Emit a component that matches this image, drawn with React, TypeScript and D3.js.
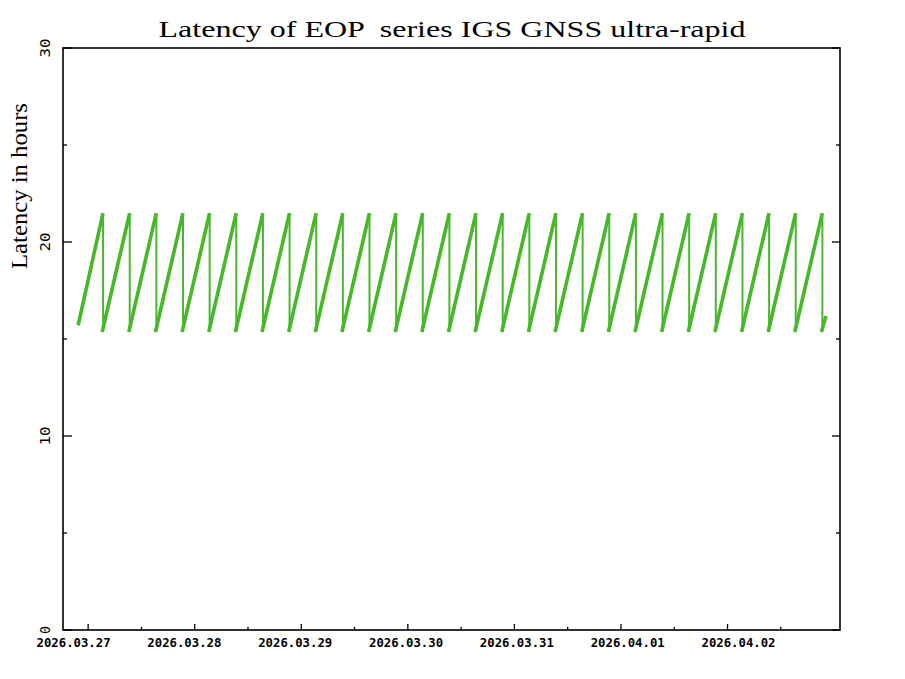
import * as React from 'react'
import * as d3 from 'd3'

// product release times (UTC) where latency drops back down
const releaseTimes = [
  '2026-03-27T03:15', '2026-03-27T09:15', '2026-03-27T15:15', '2026-03-27T21:15',
  '2026-03-28T03:15', '2026-03-28T09:15', '2026-03-28T15:15', '2026-03-28T21:15',
  '2026-03-29T03:15', '2026-03-29T09:15', '2026-03-29T15:15', '2026-03-29T21:15',
  '2026-03-30T03:15', '2026-03-30T09:15', '2026-03-30T15:15', '2026-03-30T21:15',
  '2026-03-31T03:15', '2026-03-31T09:15', '2026-03-31T15:15', '2026-03-31T21:15',
  '2026-04-01T03:15', '2026-04-01T09:15', '2026-04-01T15:15', '2026-04-01T21:15',
  '2026-04-02T03:15', '2026-04-02T09:15', '2026-04-02T15:15', '2026-04-02T21:15',
]
// latency just before each release (hours)
const peakLatency = [
  21.4, 21.4, 21.4, 21.4, 21.4, 21.4, 21.4, 21.4, 21.4, 21.4, 21.4, 21.4, 21.4, 21.4,
  21.4, 21.4, 21.4, 21.4, 21.4, 21.4, 21.4, 21.4, 21.4, 21.4, 21.4, 21.4, 21.4, 21.4,
]
// latency right after each release (hours)
const troughLatency = [
  15.45, 15.45, 15.45, 15.45, 15.45, 15.45, 15.45, 15.45, 15.45, 15.45, 15.45, 15.45, 15.45, 15.45,
  15.45, 15.45, 15.45, 15.45, 15.45, 15.45, 15.45, 15.45, 15.45, 15.45, 15.45, 15.45, 15.45, 15.45,
]
const firstPoint = { time: '2026-03-26T21:50', latency: 15.8 }
const lastPoint = { time: '2026-04-02T22:05', latency: 16.1 }

const xDomain = ['2026-03-26T18:20', '2026-04-03T01:20']
const yTicks = [0, 10, 20, 30]
const yMinorTicks = [5, 15, 25]
const title = 'Latency of EOP  series IGS GNSS ultra-rapid'
const yTitle = 'Latency in hours'

const W = 905
const H = 679
const left = 63
const right = 840
const top = 48
const bottom = 630
const green = '#46b82a'

const parse = d3.utcParse('%Y-%m-%dT%H:%M')

export default function App() {
  const x = d3.scaleUtc()
    .domain(xDomain.map(d => parse(d) as Date))
    .range([left, right])
  const y = d3.scaleLinear().domain([0, 30]).range([bottom, top])

  const days = d3.utcDay.range(x.domain()[0], x.domain()[1])
    .filter(d => x(d) > left + 5 && x(d) < right - 30)
  const halfDays = d3.utcHour.every(12)!.range(x.domain()[0], x.domain()[1])
    .filter(d => d.getUTCHours() === 12)
  // the labels sit on a slightly wider spacing than the ticks
  const labelX = d3.scaleUtc()
    .domain([days[0], days[days.length - 1]])
    .range([x(days[0]) - 14.6, x(days[days.length - 1]) + 11])
  const fmt = d3.utcFormat('%Y.%m.%d')

  // segments: rises (thick) and drops (thin)
  const rises: [Date, number, Date, number][] = []
  const drops: [Date, number, number][] = []
  let prevT = parse(firstPoint.time) as Date
  let prevV = firstPoint.latency
  releaseTimes.forEach((t, i) => {
    const d = parse(t) as Date
    rises.push([prevT, prevV, d, peakLatency[i]])
    drops.push([d, peakLatency[i], troughLatency[i]])
    prevT = d
    prevV = troughLatency[i]
  })
  rises.push([prevT, prevV, parse(lastPoint.time) as Date, lastPoint.latency])

  return (
    <svg width={W} height={H} style={{ position: 'absolute', left: 0, top: 0, background: '#fff' }}>
      <rect x={0} y={0} width={W} height={H} fill="#fff" />
      <text x={452} y={36.7} textAnchor="middle" fontFamily="'Liberation Serif', serif" fontSize={23}
        textLength={587} lengthAdjust="spacingAndGlyphs" style={{ whiteSpace: 'pre' }}>{title}</text>
      <text transform={`translate(27,186) rotate(-90)`} textAnchor="middle"
        fontFamily="'Liberation Serif', serif" fontSize={23} textLength={166} lengthAdjust="spacingAndGlyphs">{yTitle}</text>

      <g stroke={green} fill="none" strokeLinecap="square">
        {rises.map((s, i) => (
          <line key={'r' + i} x1={x(s[0])} y1={y(s[1])} x2={x(s[2])} y2={y(s[3])} strokeWidth={3.6} />
        ))}
        {drops.map((s, i) => (
          <line key={'d' + i} x1={x(s[0]) + 0.5} y1={y(s[1])} x2={x(s[0]) + 0.5} y2={y(s[2])} strokeWidth={2} />
        ))}
      </g>

      <g stroke="#000" strokeWidth={1.3}>
        {yTicks.map(t => (
          <g key={'y' + t}>
            <line x1={left} x2={left + 9} y1={y(t)} y2={y(t)} />
            <line x1={right - 8} x2={right} y1={y(t)} y2={y(t)} />
          </g>
        ))}
        {yMinorTicks.map(t => (
          <g key={'ym' + t}>
            <line x1={left} x2={left + 4} y1={y(t)} y2={y(t)} />
            <line x1={right - 4} x2={right} y1={y(t)} y2={y(t)} />
          </g>
        ))}
        {days.map(d => (
          <line key={'xd' + d.getTime()} x1={x(d)} x2={x(d)} y1={bottom} y2={bottom - 6} />
        ))}
        {halfDays.map(d => (
          <line key={'xh' + d.getTime()} x1={x(d)} x2={x(d)} y1={bottom} y2={bottom - 3} />
        ))}
        <rect x={left} y={top} width={right - left} height={bottom - top} fill="none" strokeWidth={1.6} />
      </g>

      <g fontFamily="'DejaVu Sans Mono', monospace" fill="#000">
        {yTicks.map(t => (
          <text key={'yl' + t} transform={`translate(50,${y(t)}) rotate(-90)`} textAnchor="middle"
            fontSize={14} textLength={t === 0 ? 8 : 19} lengthAdjust="spacingAndGlyphs">{t}</text>
        ))}
        {days.map(d => (
          <text key={'xl' + d.getTime()} x={labelX(d)} y={647.3} textAnchor="middle" fontSize={12}
            fontWeight="bold" textLength={74} lengthAdjust="spacingAndGlyphs">{fmt(d)}</text>
        ))}
      </g>
    </svg>
  )
}
